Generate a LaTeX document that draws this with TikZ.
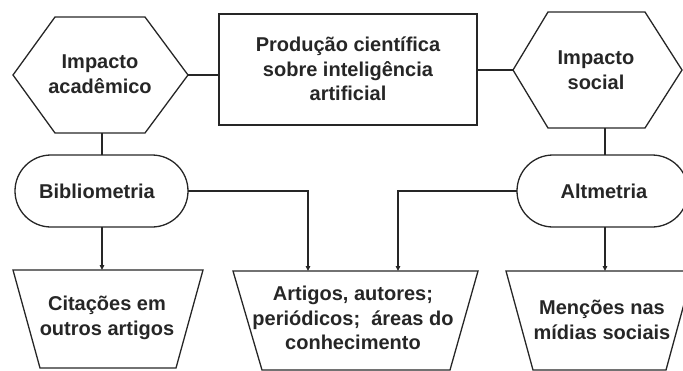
\documentclass[tikz,border=0pt]{standalone}
\usepackage{fontspec}
\setmainfont{Liberation Sans}
\usetikzlibrary{arrows.meta}
\begin{document}
\begin{tikzpicture}[x=1pt,y=-1pt,
  shp/.style={draw=black!85, line width=1.3pt, line join=miter},
  conn/.style={draw=black!85, line width=1.3pt},
  arr/.style={conn, -{Triangle[length=5pt,width=4.5pt]}},
  lbl/.style={align=center, font=\fontsize{20}{24.5}\selectfont\bfseries, text=black!85, inner sep=0pt}]
\useasboundingbox (0,0) rectangle (683,370);
\begin{scope}
\clip (0,0) rectangle (683,370);
% shapes
\draw[shp] (13,75) -- (55,17) -- (145,17) -- (188,75) -- (145,133) -- (55,133) -- cycle;
\draw[shp] (219,14) rectangle (477,125);
\draw[shp] (513,70) -- (548,12) -- (645,12) -- (682,70) -- (645,128) -- (548,128) -- cycle;
\draw[shp, rounded corners=36pt] (15,155) rectangle (188,227);
\draw[shp, rounded corners=36pt] (517,155) rectangle (688,227);
\draw[shp] (13,270) -- (203,270) -- (176,368) -- (40,368) -- cycle;
\draw[shp] (233,271) -- (478,271) -- (450,370) -- (262,370) -- cycle;
\draw[shp] (506,271) -- (693,271) -- (666,370) -- (533,370) -- cycle;
\end{scope}
% named anchor coordinates
\coordinate (hexLr) at (188,75);
\coordinate (hexLb) at (102,133);
\coordinate (boxl) at (219,75);
\coordinate (boxr) at (477,70);
\coordinate (hexRl) at (513,70);
\coordinate (hexRb) at (605,128);
\coordinate (bibt) at (102,155);
\coordinate (bibb) at (102,227);
\coordinate (bibr) at (188,191);
\coordinate (altt) at (605,155);
\coordinate (altb) at (605,227);
\coordinate (altl) at (517,191);
\coordinate (trLt) at (102,270);
\coordinate (trMt1) at (308,271);
\coordinate (trMt2) at (398,271);
\coordinate (trRt) at (605,271);
% connectors
\draw[conn] (hexLr) -- (boxl);
\draw[conn] (boxr) -- (hexRl);
\draw[conn] (hexLb) -- (bibt);
\draw[conn] (hexRb) -- (altt);
\draw[arr] (bibb) -- (trLt);
\draw[arr] (altb) -- (trRt);
\draw[arr] (bibr) -| (trMt1);
\draw[arr] (altl) -| (trMt2);
% labels
\node[lbl] (t1) at (100,74) {Impacto\\acadêmico};
\node[lbl] (t2) at (348,69) {Produção científica\\sobre inteligência\\artificial};
\node[lbl] (t3) at (596,70) {Impacto\\social};
\node[lbl] (t4) at (97,191) {Bibliometria};
\node[lbl] (t5) at (604,191) {Altmetria};
\node[lbl] (t6) at (107,318) {Citações em\\outros artigos};
\node[lbl] (t7) at (353,318) {Artigos, autores;\\periódicos;\ \ áreas do\\conhecimento};
\node[lbl] (t8) at (602,320) {Menções nas\\mídias sociais};
\end{tikzpicture}
\end{document}
